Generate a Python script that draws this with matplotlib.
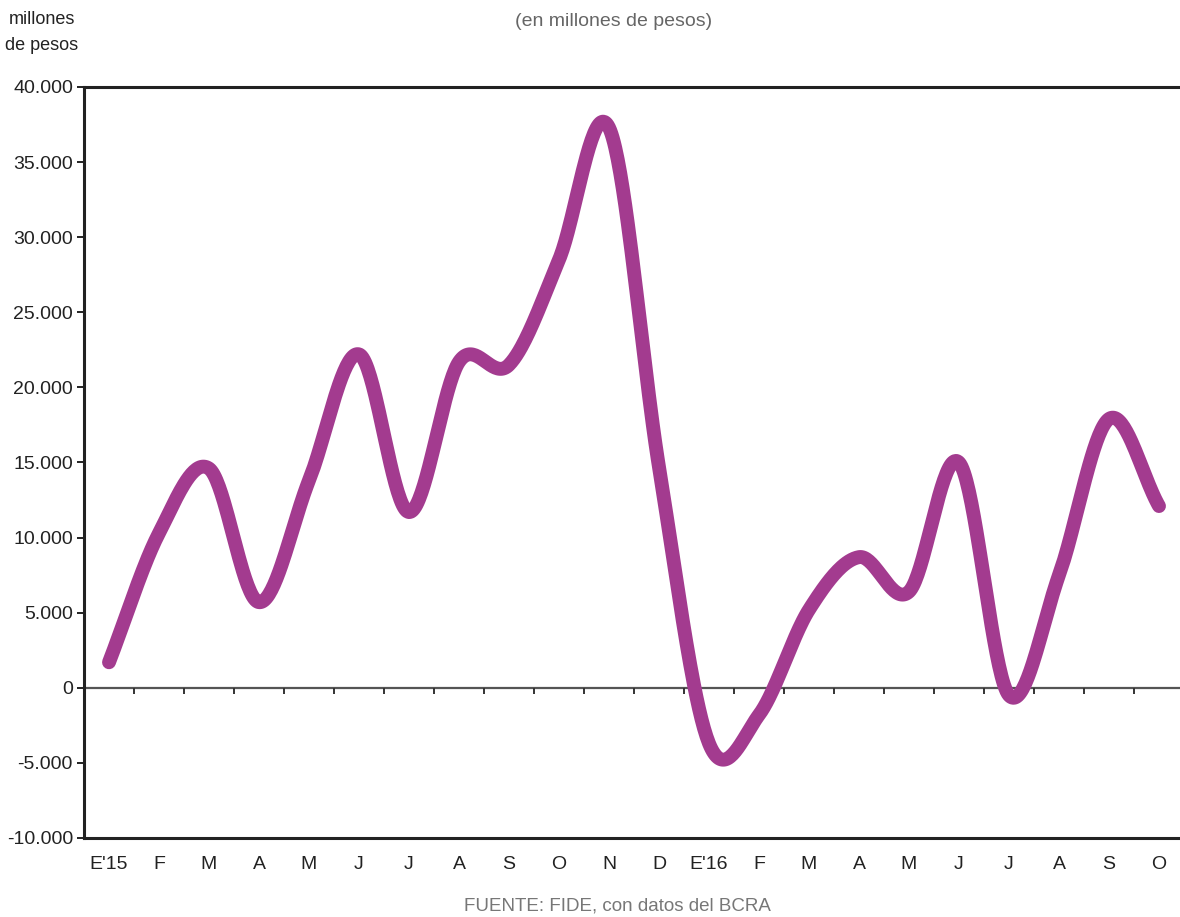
import numpy as np
import matplotlib.pyplot as plt
from matplotlib.ticker import FuncFormatter

plt.rcParams['font.family'] = ['Liberation Sans Narrow', 'Liberation Sans', 'DejaVu Sans']

# monthly values, millions of pesos
meses = ["E'15", "F", "M", "A", "M", "J", "J", "A", "S", "O", "N", "D",
         "E'16", "F", "M", "A", "M", "J", "J", "A", "S", "O"]
valores = [1700, 10300, 14600, 5700, 13800, 22200, 11700, 21700, 21500, 28500, 37300, 14700,
           -3700, -1800, 5200, 8700, 6400, 15000, -500, 7500, 17900, 12100]

color_linea = '#a33b8f'


def suavizar(y, pasos=40):
    # Catmull-Rom curve through every point, like a smoothed spreadsheet line
    y = np.asarray(y, dtype=float)
    p = np.concatenate([[2 * y[0] - y[1]], y, [2 * y[-1] - y[-2]]])
    xs, ys = [], []
    t = np.linspace(0, 1, pasos, endpoint=False)
    for i in range(len(y) - 1):
        p0, p1, p2, p3 = p[i], p[i + 1], p[i + 2], p[i + 3]
        m1 = (p2 - p0) / 2
        m2 = (p3 - p1) / 2
        h00 = 2 * t**3 - 3 * t**2 + 1
        h10 = t**3 - 2 * t**2 + t
        h01 = -2 * t**3 + 3 * t**2
        h11 = t**3 - t**2
        xs.append(i + t)
        ys.append(h00 * p1 + h10 * m1 + h01 * p2 + h11 * m2)
    xs.append([len(y) - 1])
    ys.append([y[-1]])
    return np.concatenate(xs), np.concatenate(ys)


x = np.arange(len(meses))
xs, ys = suavizar(valores)

fig = plt.figure(figsize=(11.8, 9.17), dpi=100)
ax = fig.add_axes([84 / 1180, 1 - 838 / 917, (1184 - 84) / 1180, (838 - 87) / 917])

# zero line with month separators hanging below it
ax.axhline(0, color='#555555', lw=1.6, zorder=1)
ax.vlines(x[:-1] + 0.5, -420, 0, color='#333333', lw=1.4, zorder=1)

ax.plot(xs, ys, color=color_linea, lw=10, solid_capstyle='round', solid_joinstyle='round', zorder=3)

ax.set_xlim(-0.5, len(meses) - 0.5)
ax.set_ylim(-10000, 40000)
ax.set_yticks(np.arange(-10000, 40001, 5000))
ax.yaxis.set_major_formatter(FuncFormatter(lambda v, _: f"{int(v):,}".replace(",", ".")))
ax.set_xticks(x)
ax.set_xticklabels(meses)

ax.tick_params(axis='y', direction='out', length=5, width=1.4, color='#222222',
               labelsize=14, labelcolor='#222222', pad=3)
ax.tick_params(axis='x', length=0, labelsize=14, labelcolor='#222222', pad=13)

for lado in ['left', 'top', 'bottom']:
    ax.spines[lado].set_color('#222222')
    ax.spines[lado].set_linewidth(2.2)
ax.spines['right'].set_visible(False)

fig.text(42 / 1180, 1 - 20 / 917, "millones", ha='center', va='center', fontsize=13, color='#222222')
fig.text(42 / 1180, 1 - 45 / 917, "de pesos", ha='center', va='center', fontsize=13, color='#222222')
fig.text(614 / 1180, 1 - 21 / 917, "(en millones de pesos)", ha='center', va='center',
         fontsize=14, color='#666666')
fig.text(617 / 1180, 1 - 906 / 917, "FUENTE: FIDE, con datos del BCRA", ha='center', va='center',
         fontsize=13.5, color='#777777')

fig.savefig("out.png", dpi=100)
